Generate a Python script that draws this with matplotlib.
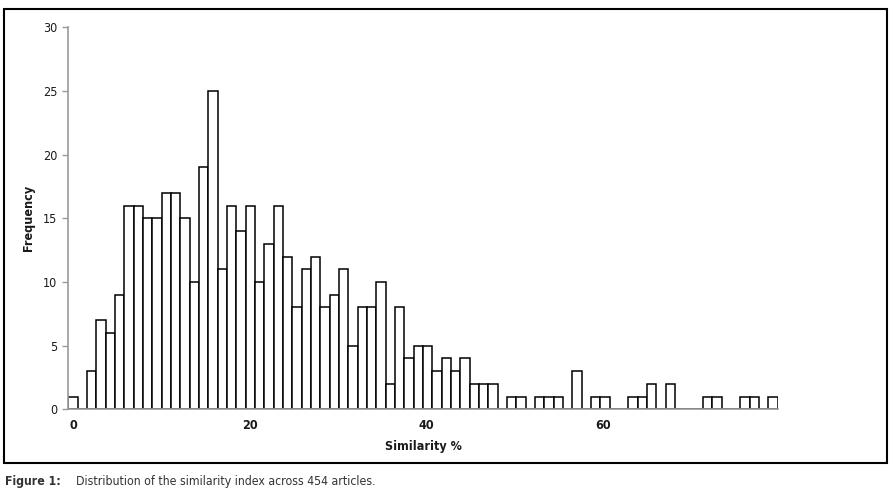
import matplotlib.pyplot as plt
import numpy as np
from matplotlib.patches import Rectangle

# counts per similarity bin (454 articles in total)
counts = [
    1, 0, 3, 7, 6, 9, 16, 16, 15, 15, 17, 17, 15, 10, 19, 25, 11, 16, 14, 16,
    10, 13, 16, 12, 8, 11, 12, 8, 9, 11, 5, 8, 8, 10, 2, 8, 4, 5, 5, 3,
    4, 3, 4, 2, 2, 2, 0, 1, 1, 0, 1, 1, 1, 0, 3, 0, 1, 1, 0, 0,
    1, 1, 2, 0, 2, 0, 0, 0, 1, 1, 0, 0, 1, 1, 0, 1,
]
x_ticks = [0, 20, 40, 60]
y_ticks = [0, 5, 10, 15, 20, 25, 30]
caption_label = "Figure 1:"
caption_text = "Distribution of the similarity index across 454 articles."

# bin edges span the similarity range of the histogram
edges = np.linspace(-0.53, 79.84, len(counts) + 1)
centers = (edges[:-1] + edges[1:]) / 2
widths = np.diff(edges)

plt.rcParams['font.family'] = ['DejaVu Sans']
plt.rcParams['font.stretch'] = 'condensed'
W, H = 893, 496
fig = plt.figure(figsize=(W / 100, H / 100), dpi=100)

left, right = 68.3 / W, 777.7 / W
bottom, top = 1 - 409.3 / H, 1 - 27.4 / H
ax = fig.add_axes([left, bottom, right - left, top - bottom])

ax.bar(centers, counts, width=widths, facecolor='white', edgecolor='black',
       linewidth=1.1, align='center')

ax.set_xlim(edges[0], edges[-1])
ax.set_ylim(0, 30)
ax.set_xticks(x_ticks)
ax.set_xticklabels([str(t) for t in x_ticks], fontweight='bold', fontsize=9)
ax.set_yticks(y_ticks)
ax.set_yticklabels([str(t) for t in y_ticks], fontsize=9)
ax.tick_params(axis='x', length=0, pad=7, colors='#1a1a1a')
ax.tick_params(axis='y', length=4, width=1, color='#999999', pad=4,
               labelcolor='#1a1a1a')

for s in ['top', 'right']:
    ax.spines[s].set_visible(False)
for s in ['left', 'bottom']:
    ax.spines[s].set_color('#999999')
    ax.spines[s].set_linewidth(1.2)

ax.set_xlabel('Similarity %', fontweight='bold', fontsize=9, labelpad=6,
              color='#1a1a1a')
ax.set_ylabel('Frequency', fontweight='bold', fontsize=9, color='#1a1a1a')
ax.yaxis.set_label_coords(-0.047, 0.5)

# frame around the chart
fig.patches.append(Rectangle((4 / W, 1 - 463 / H), 883 / W, 454 / H,
                             transform=fig.transFigure, fill=False,
                             edgecolor='black', linewidth=1.5))

fig.text(5 / W, 1 - 482 / H, caption_label, fontweight='bold', fontsize=8.8,
         va='center', ha='left', color='#333333')
fig.text(76 / W, 1 - 482 / H, caption_text, fontsize=8.8,
         va='center', ha='left', color='#333333')

fig.savefig('out.png', dpi=100)
